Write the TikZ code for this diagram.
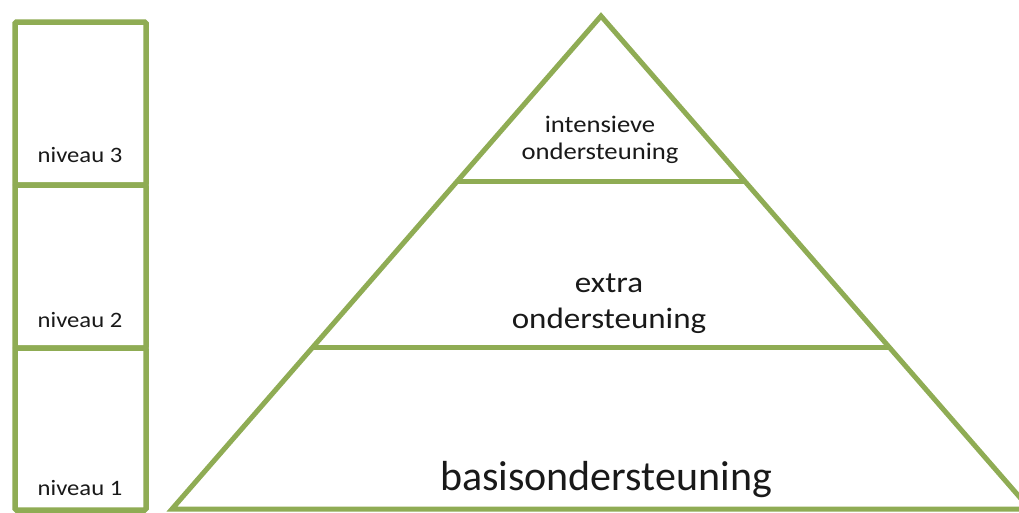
\documentclass[tikz,border=0pt]{standalone}
\usepackage{fontspec}
\setmainfont{Carlito}
\newfontfamily\widefont[FakeStretch=1.12]{Carlito}
\definecolor{levelgreen}{RGB}{143,172,84}
\begin{document}
\begin{tikzpicture}[x=1pt,y=-1pt,
  edge/.style={draw=levelgreen,line width=5pt,line join=miter},
  boxedge/.style={draw=levelgreen,line width=5.5pt,rounded corners=1.5pt},
  label/.style={text=black!90,inner sep=0pt,anchor=base,align=center}]
\clip (0,0) rectangle (1019,512);
\fill[white] (0,0) rectangle (1019,512);

% levels on the left
\draw[boxedge] (15,22) rectangle (146,185);
\draw[boxedge] (15,185) rectangle (146,348);
\draw[boxedge] (15,348) rectangle (146,510);
\node[label,font=\fontsize{22}{26}\widefont] (lvl3) at (80,162) {niveau 3};
\node[label,font=\fontsize{22}{26}\widefont] (lvl2) at (80,327) {niveau 2};
\node[label,font=\fontsize{22}{26}\widefont] (lvl1) at (80,495) {niveau 1};

% pyramid
\coordinate (top) at (601,16);
\coordinate (baseL) at (172,509);
\coordinate (baseR) at (1030,509);
\draw[edge] (top) -- (baseL) -- (baseR) -- cycle;
\draw[edge] (458,181) -- (744,181);
\draw[edge] (313,347) -- (889,347);

\node[label,font=\fontsize{23.8}{27}\widefont] (intens) at (600,159) {intensieve\\ondersteuning};
\node[label,font=\fontsize{29.5}{36}\widefont] (extra) at (609,328) {extra\\ondersteuning};
\node[label,font=\fontsize{42}{50}\selectfont] (basis) at (606,490) {basisondersteuning};
\end{tikzpicture}
\end{document}
